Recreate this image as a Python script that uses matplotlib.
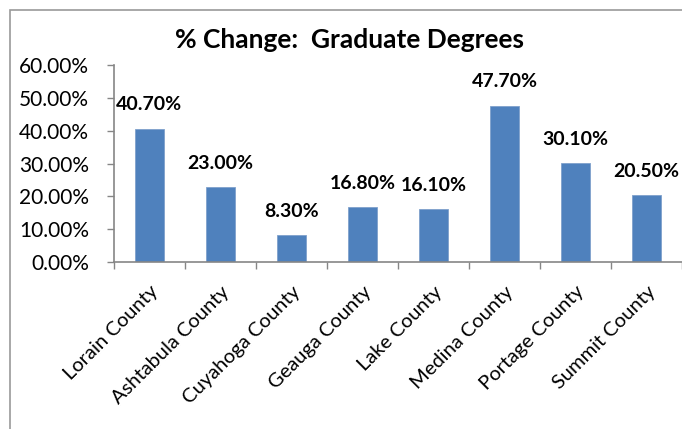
import numpy as np
import matplotlib.pyplot as plt
from matplotlib.patches import Rectangle
from matplotlib.ticker import PercentFormatter, FixedLocator

# data
counties = ["Lorain County", "Ashtabula County", "Cuyahoga County", "Geauga County",
            "Lake County", "Medina County", "Portage County", "Summit County"]
pct_change = [40.70, 23.00, 8.30, 16.80, 16.10, 47.70, 30.10, 20.50]

plt.rcParams['font.family'] = ['Lato', 'DejaVu Sans']

fig = plt.figure(figsize=(6.82, 4.29), dpi=100)
ax = fig.add_axes([0.167, 0.389, 0.833, 0.459])

x = np.arange(len(counties))
bar_color = "#4F81BD"
ax.bar(x, pct_change, width=0.4, color=bar_color, edgecolor="#7FA1CC", linewidth=0.6)

# value labels above bars
for xi, v in zip(x, pct_change):
    ax.annotate(f"{v:.2f}%", (xi, v), xytext=(0, 17), textcoords="offset points",
                ha="center", va="center", fontsize=14, fontweight="bold")

ax.set_xlim(-0.5, len(counties) - 0.5)
ax.set_ylim(0, 60)
ax.set_yticks(np.arange(0, 61, 10))
ax.yaxis.set_major_formatter(PercentFormatter(decimals=2))

ax.set_xticks(x)
ax.set_xticklabels(counties, rotation=45, ha="right", rotation_mode="anchor", fontsize=14.5)
ax.tick_params(axis="x", length=0, pad=15)
# ticks between categories
ax.xaxis.set_minor_locator(FixedLocator(np.arange(-0.5, len(counties), 1)))
ax.tick_params(axis="x", which="minor", length=5, color="#868686", width=1)
ax.tick_params(axis="y", length=5, color="#868686", width=1, labelsize=15, pad=13)

for s in ["top", "right"]:
    ax.spines[s].set_visible(False)
for s in ["left", "bottom"]:
    ax.spines[s].set_color("#868686")
    ax.spines[s].set_linewidth(1.2)

fig.text(0.513, 1 - 40 / 429, "% Change:  Graduate Degrees", ha="center", va="center",
         fontsize=19, fontweight="bold")

# chart frame
fig.patches.append(Rectangle((10 / 682, -0.1), 1.2, 1.1 - 10 / 429, transform=fig.transFigure,
                             fill=False, edgecolor="#9A9A9A", linewidth=1.2))

fig.savefig("out.png", dpi=100)
